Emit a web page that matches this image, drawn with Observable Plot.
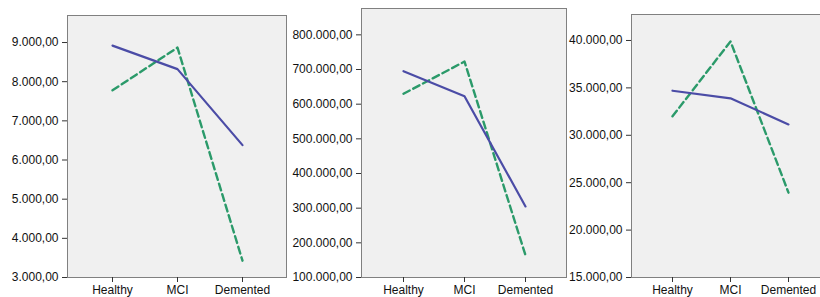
<!DOCTYPE html>
<html><head><meta charset="utf-8">
<script src="https://cdn.jsdelivr.net/npm/d3@7"></script>
<script src="https://cdn.jsdelivr.net/npm/@observablehq/plot@0.6"></script>
<style>
body{margin:0;background:#fff;overflow:hidden}
#wrap{position:relative;width:820px;height:297px;overflow:hidden;background:#fff}
.panel{position:absolute;top:0}
</style></head><body><div id="wrap"></div>
<script>
const groups = ["Healthy", "MCI", "Demented"];

const panel1Solid  = [8920, 8320, 6380];
const panel1Dashed = [7780, 8870, 3430];
const panel2Solid  = [695000, 623000, 305000];
const panel2Dashed = [630000, 723000, 164000];
const panel3Solid  = [34700, 33900, 31150];
const panel3Dashed = [32000, 39900, 23950];

const panel1Ticks = [3000, 4000, 5000, 6000, 7000, 8000, 9000];
const panel2Ticks = [100000, 200000, 300000, 400000, 500000, 600000, 700000, 800000];
const panel3Ticks = [15000, 20000, 25000, 30000, 35000, 40000];

const panel1Domain = [3000, 9690];
const panel2Domain = [100000, 876000];
const panel3Domain = [15000, 42740];

const locale = d3.formatLocale({decimal: ",", thousands: ".", grouping: [3], currency: ["", " €"]});
const fmt = locale.format(",.2f");

const layout = [
  {left: 0,   width: 287, marginLeft: 67, marginRight: 1, marginTop: 15},
  {left: 287, width: 280, marginLeft: 74, marginRight: 1, marginTop: 8},
  {left: 567, width: 262, marginLeft: 64, marginRight: 0, marginTop: 14}
];
const panels = [
  {solid: panel1Solid, dashed: panel1Dashed, ticks: panel1Ticks, domain: panel1Domain},
  {solid: panel2Solid, dashed: panel2Dashed, ticks: panel2Ticks, domain: panel2Domain},
  {solid: panel3Solid, dashed: panel3Dashed, ticks: panel3Ticks, domain: panel3Domain}
];

const wrap = document.getElementById("wrap");
panels.forEach((p, i) => {
  const L = layout[i];
  const solid = groups.map((g, j) => ({g, v: p.solid[j]}));
  const dashed = groups.map((g, j) => ({g, v: p.dashed[j]}));
  const chart = Plot.plot({
    width: L.width,
    height: 297,
    marginLeft: L.marginLeft,
    marginRight: L.marginRight,
    marginTop: L.marginTop,
    marginBottom: 20,
    style: {fontFamily: "'Liberation Sans', Arial, sans-serif", fontSize: "12px", color: "#333", background: "transparent", overflow: "visible"},
    x: {type: "point", domain: groups, padding: 0.68},
    y: {domain: p.domain},
    marks: [
      Plot.frame({fill: "#f0f0f0", stroke: "#808080", strokeWidth: 1}),
      Plot.line(dashed, {x: "g", y: "v", stroke: "#2b9a6a", strokeWidth: 2.4, strokeDasharray: "7,4"}),
      Plot.line(solid, {x: "g", y: "v", stroke: "#4b4ca6", strokeWidth: 2.2}),
      Plot.axisX({label: null, tickSize: 5, tickPadding: 3, fill: "#111"}),
      Plot.axisY({ticks: p.ticks, tickFormat: fmt, label: null, tickSize: 5, tickPadding: 4, fill: "#111"})
    ]
  });
  chart.classList.add("panel");
  chart.style.left = L.left + "px";
  wrap.appendChild(chart);
});
</script>
</body></html>
